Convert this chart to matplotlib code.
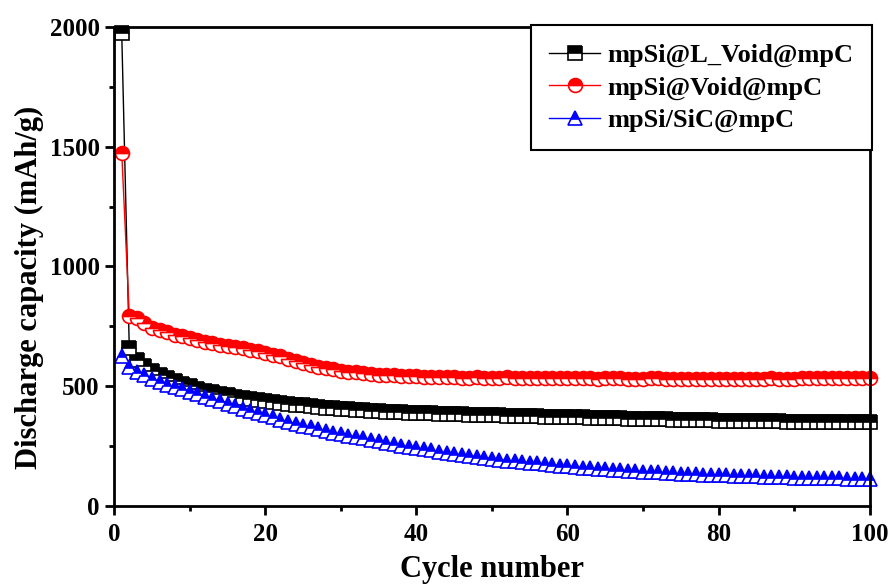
import matplotlib.pyplot as plt
from matplotlib.ticker import MultipleLocator

plt.rcParams['font.family'] = ['Liberation Serif', 'DejaVu Serif']
plt.rcParams['font.weight'] = 'bold'

cycles = list(range(1, 101))

l_void = [
    1975, 660, 610, 585, 565, 548, 533, 520, 509, 499,
    490, 482, 475, 468, 462, 456, 451, 446, 441, 437,
    433, 429, 426, 423, 420, 417, 414, 411, 408, 406,
    404, 402, 400, 398, 396, 394, 393, 391, 390, 389,
    388, 387, 386, 385, 384, 383, 382, 381, 380, 379,
    378, 377, 377, 376, 375, 374, 373, 373, 372, 371,
    370, 370, 369, 368, 367, 367, 366, 365, 364, 364,
    363, 362, 362, 361, 360, 360, 359, 358, 358, 357,
    356, 356, 355, 355, 354, 354, 353, 353, 352, 352,
    352, 351, 351, 351, 350, 350, 350, 349, 349, 349,
]

void = [
    1475, 795, 785, 765, 745, 735, 725, 715, 708, 700,
    693, 686, 680, 674, 668, 663, 658, 652, 646, 640,
    632, 625, 615, 605, 596, 588, 581, 575, 570, 565,
    561, 558, 555, 552, 549, 547, 545, 543, 542, 541,
    540, 539, 538, 538, 537, 536, 536, 537, 535, 534,
    536, 538, 536, 535, 534, 535, 536, 534, 533, 535,
    534, 535, 533, 532, 534, 535, 533, 531, 530, 532,
    533, 534, 531, 530, 529, 531, 532, 530, 529, 530,
    531, 530, 529, 531, 530, 532, 533, 531, 530, 532,
    533, 534, 535, 534, 533, 535, 536, 535, 534, 535,
]

sic = [
    625, 580, 560, 545, 530, 518, 507, 497, 487, 477,
    467, 457, 447, 437, 427, 417, 407, 397, 388, 379,
    370, 361, 352, 344, 336, 328, 320, 313, 306, 300,
    294, 288, 282, 276, 270, 264, 258, 252, 247, 242,
    237, 232, 227, 222, 218, 214, 210, 206, 202, 198,
    194, 190, 187, 184, 181, 178, 175, 172, 169, 166,
    163, 160, 158, 156, 154, 152, 150, 148, 146, 144,
    142, 140, 138, 136, 134, 133, 132, 131, 130, 129,
    128, 127, 126, 125, 124, 123, 122, 121, 120, 119,
    118, 117, 116, 116, 115, 115, 114, 114, 113, 113,
]

labels = ['mpSi@L_Void@mpC', 'mpSi@Void@mpC', 'mpSi/SiC@mpC']

fig = plt.figure(figsize=(8.92, 5.85), dpi=100)
ax = fig.add_axes([0.128, 0.135, 0.847, 0.819])

series = [(l_void, 's', 'black'), (void, 'o', 'red'), (sic, '^', 'blue')]
for (vals, mk, col), lab in zip(series, labels):
    ax.plot(cycles, vals, color=col, lw=1, marker=mk, markersize=10,
            fillstyle='top', markerfacecolor=col, markerfacecoloralt='white',
            markeredgecolor=col, markeredgewidth=1.2, label=lab, clip_on=False)

ax.set_xlim(0, 100)
ax.set_ylim(0, 2000)
ax.xaxis.set_major_locator(MultipleLocator(20))
ax.xaxis.set_minor_locator(MultipleLocator(10))
ax.yaxis.set_major_locator(MultipleLocator(500))
ax.yaxis.set_minor_locator(MultipleLocator(250))
ax.tick_params(which='both', direction='out', width=2, top=False, right=False,
               labelsize=18)
ax.tick_params(axis='x', pad=6)
ax.tick_params(axis='y', pad=4)
ax.tick_params(which='major', length=6.5)
ax.tick_params(which='minor', length=3.5)
for s in ax.spines.values():
    s.set_linewidth(2)

ax.set_xlabel('Cycle number', fontsize=22, fontweight='bold', labelpad=6)
ax.set_ylabel('Discharge capacity (mAh/g)', fontsize=22, fontweight='bold')
ax.yaxis.set_label_coords(-0.093, 0.457)

leg = ax.legend(loc='upper right', fontsize=19, fancybox=False, edgecolor='black',
                framealpha=1, handlelength=1.9, handletextpad=0.3, borderpad=0.7,
                labelspacing=0.33, borderaxespad=0, bbox_to_anchor=(1.003, 1.004))
leg.get_frame().set_linewidth(1.5)

fig.savefig('out.png', dpi=100)
